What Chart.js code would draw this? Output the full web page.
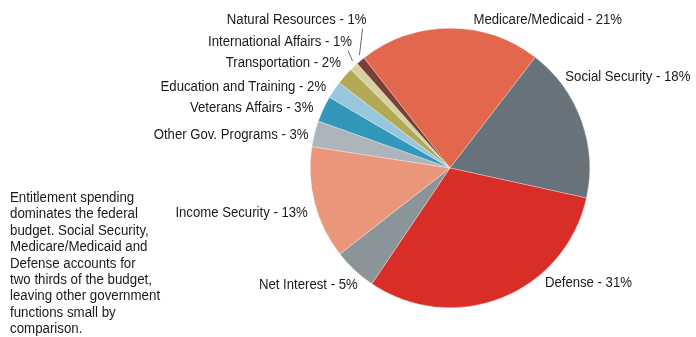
<!DOCTYPE html>
<html lang="en">
<head>
    <meta charset="UTF-8">
    <title>Federal Budget</title>
    <script src="https://cdn.jsdelivr.net/npm/chart.js"></script>
    <style>
        html, body { margin: 0; padding: 0; background: #ffffff; }
        #wrap { position: relative; width: 696px; height: 337px; }
        #budget-chart { position: absolute; left: 0; top: 0; }
        #note {
            position: absolute;
            left: 10px;
            top: 189px;
            font-family: 'Liberation Sans', Arial, sans-serif;
            font-size: 14px;
            line-height: 16.4px;
            color: #1a1a1a;
            transform: scaleX(0.95);
            transform-origin: left top;
            white-space: nowrap;
        }
    </style>
</head>
<body>
    <div id="wrap">
        <canvas id="budget-chart" width="696" height="337"></canvas>
        <div id="note">
            Entitlement spending<br>
            dominates the federal<br>
            budget. Social Security,<br>
            Medicare/Medicaid and<br>
            Defense accounts for<br>
            two thirds of the budget,<br>
            leaving other government<br>
            functions small by<br>
            comparison.
        </div>
    </div>

    <script>
        const categories = [
            'Medicare/Medicaid', 'Social Security', 'Defense', 'Net Interest',
            'Income Security', 'Other Gov. Programs', 'Veterans Affairs',
            'Education and Training', 'Transportation', 'International Affairs',
            'Natural Resources'
        ];
        const shares = [21, 18, 31, 5, 13, 3, 3, 2, 2, 1, 1];

        const sliceColors = [
            '#e2674d', '#67727a', '#d92d27', '#8a9499', '#e9967a', '#adb5bb',
            '#3298bb', '#98c6dc', '#b1a955', '#d6d19f', '#7a4035'
        ];

        // label placement: shift from the slice's outer mid point, text alignment, leader line
        const labelShift = [
            [24, -8, 'left', false],
            [-16, -43, 'left', false],
            [43, -15, 'left', false],
            [3, 15, 'right', false],
            [-7, 10, 'right', false],
            [-6, 1, 'right', false],
            [-10, -1, 'right', false],
            [-8, -3, 'right', false],
            [-4, -13, 'right', false],
            [-2, -24, 'right', true],
            [6, -40, 'right', true]
        ];

        const sliceLabels = {
            id: 'sliceLabels',
            afterDatasetsDraw(chart) {
                const ctx = chart.ctx;
                const arcs = chart.getDatasetMeta(0).data;
                ctx.save();
                ctx.font = "14px 'Liberation Sans', Arial, sans-serif";
                ctx.fillStyle = '#1a1a1a';
                ctx.textBaseline = 'middle';
                arcs.forEach((arc, i) => {
                    const mid = (arc.startAngle + arc.endAngle) / 2;
                    const ax = arc.x + Math.cos(mid) * arc.outerRadius;
                    const ay = arc.y + Math.sin(mid) * arc.outerRadius;
                    const [dx, dy, align, leader] = labelShift[i];
                    const tx = ax + dx;
                    const ty = ay + dy;
                    if (leader) {
                        // thin slices: point at the trailing part of the wedge
                        const a = arc.endAngle - (arc.endAngle - arc.startAngle) * 0.2;
                        const r = arc.outerRadius + 5;
                        ctx.strokeStyle = '#5d6b73';
                        ctx.lineWidth = 1;
                        ctx.beginPath();
                        ctx.moveTo(tx - 4, ty + 8);
                        ctx.lineTo(arc.x + Math.cos(a) * r, arc.y + Math.sin(a) * r);
                        ctx.stroke();
                    }
                    // slightly condensed lettering
                    ctx.save();
                    ctx.translate(tx, ty);
                    ctx.scale(0.94, 1);
                    ctx.textAlign = align;
                    ctx.fillText(categories[i] + ' - ' + shares[i] + '%', 0, 0);
                    ctx.restore();
                });
                ctx.restore();
            }
        };

        const ctx = document.getElementById('budget-chart').getContext('2d');
        new Chart(ctx, {
            type: 'pie',
            data: {
                labels: categories,
                datasets: [{
                    data: shares,
                    backgroundColor: sliceColors,
                    borderColor: 'rgba(255,255,255,0.6)',
                    borderWidth: 0.5
                }]
            },
            options: {
                responsive: false,
                animation: false,
                rotation: -38,
                layout: {
                    padding: { left: 310, right: 106, top: 28, bottom: 29 }
                },
                plugins: {
                    legend: { display: false },
                    tooltip: { enabled: false }
                }
            },
            plugins: [sliceLabels]
        });
    </script>
</body>
</html>
